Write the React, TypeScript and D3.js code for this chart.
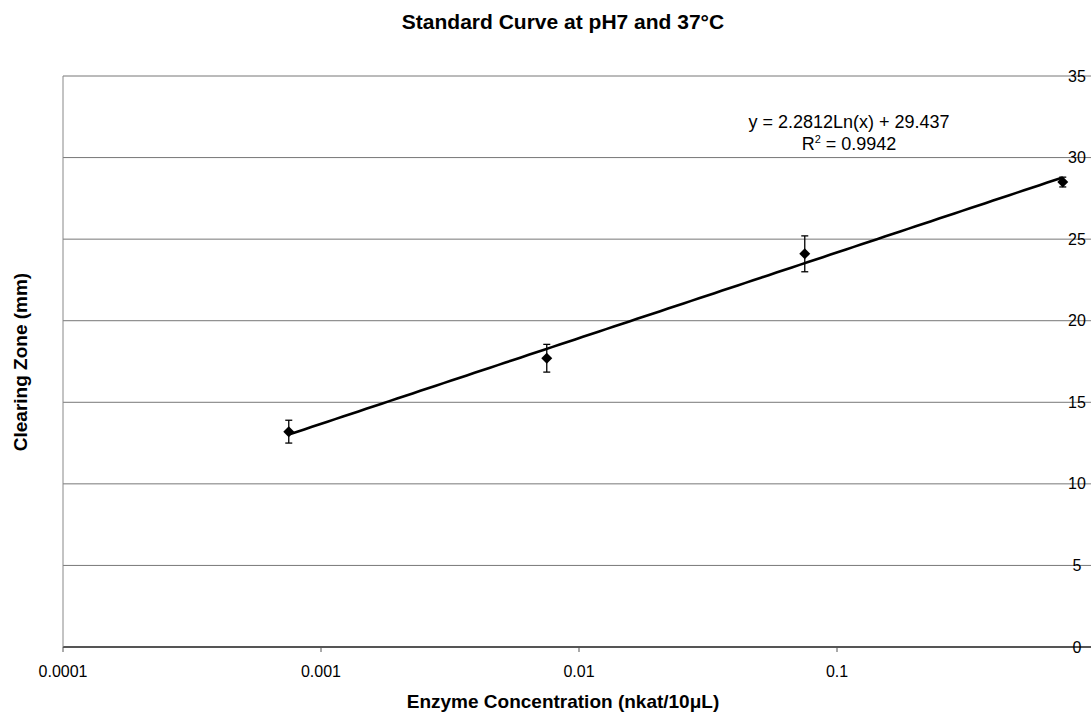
import React from "react";
import * as d3 from "d3";

const concentrations = [0.00075, 0.0075, 0.075, 0.75];
const clearingZone = [13.2, 17.7, 24.1, 28.5];
const errors = [0.7, 0.85, 1.1, 0.3];
const xTicks = [0.0001, 0.001, 0.01, 0.1];
const xTickLabels = ["0.0001", "0.001", "0.01", "0.1"];
const yTicks = [0, 5, 10, 15, 20, 25, 30, 35];
const trendA = 2.2812;
const trendB = 29.437;

const W = 1091;
const H = 713;
const FONT = "'Liberation Sans', Arial, sans-serif";

export default function App() {
  const x = d3.scaleLog().domain([0.0001, 1]).range([63, 1095]);
  const y = d3.scaleLinear().domain([0, 35]).range([647, 76]);
  const xmin = concentrations[0];
  const xmax = concentrations[concentrations.length - 1];
  const trendPts: [number, number][] = d3
    .range(0, 101)
    .map((i) => {
      const v = Math.exp(Math.log(xmin) + (i / 100) * (Math.log(xmax) - Math.log(xmin)));
      return [v, trendA * Math.log(v) + trendB];
    });
  const line = d3
    .line<[number, number]>()
    .x((d) => x(d[0]))
    .y((d) => y(d[1]));
  const diamond = d3.symbol().type(d3.symbolSquare).size(60)() as string;

  return (
    <div style={{ position: "absolute", left: 0, top: 0 }}>
      <svg width={W} height={H} style={{ display: "block", background: "#fff" }} fontFamily={FONT}>
        <text x={563} y={29} textAnchor="middle" fontSize={21} fontWeight="bold" fill="#000">
          Standard Curve at pH7 and 37°C
        </text>
        {/* gridlines */}
        {yTicks.map((t) => (
          <line
            key={"g" + t}
            x1={63}
            x2={W}
            y1={y(t)}
            y2={y(t)}
            stroke={t === 0 ? "#555" : "#777"}
            strokeWidth={t === 0 ? 2 : 1}
          />
        ))}
        {/* left axis line */}
        <line x1={63} x2={63} y1={y(35)} y2={y(0)} stroke="#888" strokeWidth={1} />
        {/* x ticks */}
        {xTicks.map((t, i) => (
          <g key={"xt" + t}>
            <line x1={x(t)} x2={x(t)} y1={y(0)} y2={y(0) + 5} stroke="#555" strokeWidth={1} />
            <text x={x(t)} y={677} textAnchor="middle" fontSize={16} fill="#000">
              {xTickLabels[i]}
            </text>
          </g>
        ))}
        {/* y tick labels */}
        {yTicks.map((t) => (
          <text key={"yl" + t} x={1077} y={y(t)} dy="0.35em" textAnchor="middle" fontSize={16} fill="#000">
            {t}
          </text>
        ))}
        {/* trendline */}
        <path d={line(trendPts) || ""} fill="none" stroke="#000" strokeWidth={2.6} />
        {/* error bars */}
        {concentrations.map((c, i) => {
          const cx = x(c);
          const top = y(clearingZone[i] + errors[i]);
          const bot = y(clearingZone[i] - errors[i]);
          return (
            <g key={"e" + i} stroke="#000" strokeWidth={1.3}>
              <line x1={cx} x2={cx} y1={top} y2={bot} />
              <line x1={cx - 3.5} x2={cx + 3.5} y1={top} y2={top} />
              <line x1={cx - 3.5} x2={cx + 3.5} y1={bot} y2={bot} />
            </g>
          );
        })}
        {/* markers */}
        {concentrations.map((c, i) => (
          <path
            key={"m" + i}
            d={diamond}
            transform={`translate(${x(c)},${y(clearingZone[i])}) rotate(45)`}
            fill="#000"
          />
        ))}
        {/* equation */}
        <text x={849} y={128} textAnchor="middle" fontSize={18} fill="#000">
          y = 2.2812Ln(x) + 29.437
        </text>
        <text x={849} y={150} textAnchor="middle" fontSize={18} fill="#000">
          R<tspan dy={-7} fontSize={11}>2</tspan>
          <tspan dy={7}> = 0.9942</tspan>
        </text>
        {/* axis titles */}
        <text x={563} y={708} textAnchor="middle" fontSize={19} fontWeight="bold" fill="#000">
          Enzyme Concentration (nkat/10μL)
        </text>
        <text
          transform={`translate(27,362) rotate(-90)`}
          textAnchor="middle"
          fontSize={19}
          fontWeight="bold"
          fill="#000"
        >
          Clearing Zone (mm)
        </text>
      </svg>
    </div>
  );
}
